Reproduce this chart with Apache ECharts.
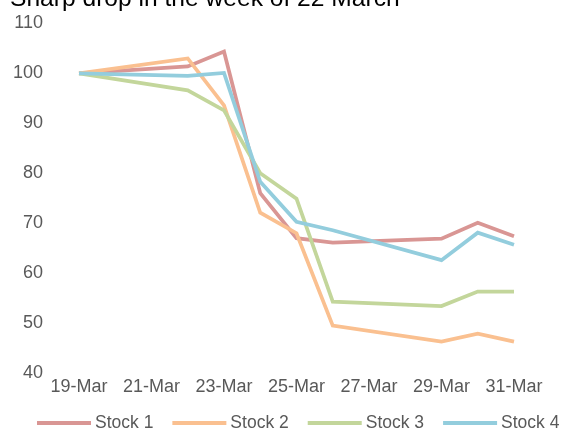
<!DOCTYPE html>
<html>
<head>
<meta charset="utf-8">
<script src="https://cdn.jsdelivr.net/npm/echarts@6/dist/echarts.min.js"></script>
<style>
html,body{margin:0;padding:0;background:#fff;}
#chart{width:563px;height:432px;}
</style>
</head>
<body>
<div id="chart"></div>
<script>
// Trading days in March (day of month)
var days = [19, 22, 23, 24, 25, 26, 29, 30, 31];
var seriesNames = ['Stock 1', 'Stock 2', 'Stock 3', 'Stock 4'];
var stock1 = [100, 101.4, 104.4, 76, 67, 66.1, 66.9, 70.1, 67.4];
var stock2 = [100, 103, 93.6, 72.1, 68, 49.5, 46.3, 47.9, 46.3];
var stock3 = [100, 96.6, 92.6, 80, 74.9, 54.3, 53.4, 56.3, 56.3];
var stock4 = [100, 99.5, 100.1, 78.3, 70.3, 68.6, 62.6, 68.1, 65.7];
var firstDay = 19;
var titleText = 'Sharp drop in the week of 22 March';

var colors = ['#D99694', '#FAC090', '#C3D69B', '#93CDDD'];
var allValues = [stock1, stock2, stock3, stock4];

function toPairs(vals) {
  return vals.map(function (v, i) { return [days[i] - firstDay, v]; });
}

var chart = echarts.init(document.getElementById('chart'), null, {renderer: 'canvas'});
var font = 'Liberation Sans, Arial, sans-serif';
chart.setOption({
  animation: false,
  backgroundColor: '#fff',
  title: {
    text: titleText,
    left: 5,
    top: -18,
    textStyle: {fontFamily: font, fontSize: 24.6, fontWeight: 'normal', color: '#000'}
  },
  grid: {left: 79, right: 49, top: 23.5, bottom: 59, containLabel: false},
  xAxis: {
    type: 'value',
    min: 0,
    max: 12,
    interval: 2,
    axisLine: {show: false},
    axisTick: {show: false},
    splitLine: {show: false},
    axisLabel: {
      margin: 5,
      fontFamily: font, fontSize: 18, color: '#595959',
      formatter: function (v) { return (v + firstDay) + '-Mar'; }
    }
  },
  yAxis: {
    type: 'value',
    min: 40,
    max: 110,
    interval: 10,
    axisLine: {show: false},
    axisTick: {show: false},
    splitLine: {show: false},
    axisLabel: {margin: 36, fontFamily: font, fontSize: 18, color: '#595959'}
  },
  legend: {
    top: 409,
    left: 32,
    width: 540,
    icon: 'rect',
    itemWidth: 54,
    itemHeight: 4,
    itemGap: 19,
    textStyle: {fontFamily: font, fontSize: 17.5, color: '#595959', padding: [0, 0, 0, -1]},
    data: seriesNames
  },
  series: seriesNames.map(function (n, i) {
    return {
      name: n,
      type: 'line',
      data: toPairs(allValues[i]),
      showSymbol: false,
      symbol: 'none',
      color: colors[i],
      lineStyle: {width: 3.75, color: colors[i], join: 'miter'}
    };
  })
});
</script>
</body>
</html>
